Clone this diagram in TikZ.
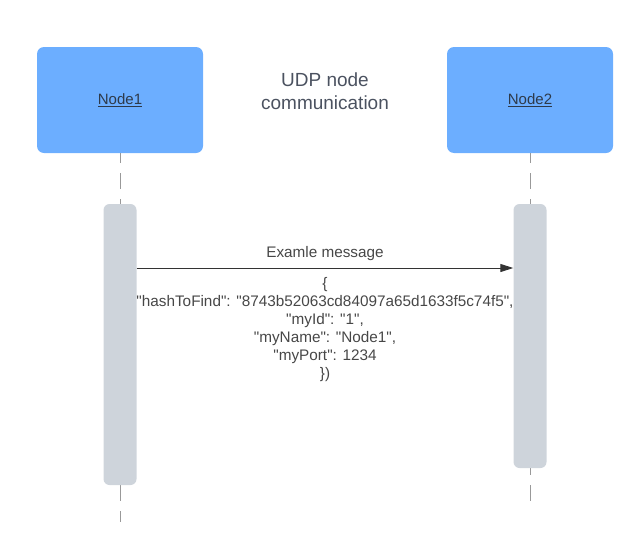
\documentclass[tikz,border=0pt]{standalone}
\usepackage{fontspec}
\setmainfont{Liberation Sans}[Ligatures=TeXOff]
\usetikzlibrary{arrows.meta,positioning}
\definecolor{actorblue}{HTML}{6CAEFF}
\definecolor{actortext}{HTML}{2E3A4A}
\definecolor{bargray}{HTML}{CED4DB}
\definecolor{titlegray}{HTML}{4B5260}
\definecolor{linegray}{HTML}{333333}

\begin{document}
\begin{tikzpicture}[x=1pt,y=-1pt,
   actor/.style={fill=actorblue,rounded corners=7pt,minimum width=166pt,
     minimum height=106pt,text=actortext,font={\fontsize{15}{18}\selectfont}},
   lifeline/.style={draw=gray!80,line width=1pt,dash pattern=on 16pt off 10pt,dash phase=6pt},
   activation/.style={fill=bargray,rounded corners=6pt,minimum width=33pt,inner sep=0pt},
   message/.style={draw=linegray,line width=0.9pt,-{Triangle[length=13pt,width=8pt]}},
   msgtext/.style={text=linegray!90,align=center,font={\fontsize{15.3}{18}\selectfont}}]
\useasboundingbox (0,0) rectangle (642,557);
% participants
\node[actor] (node1) at (120,100) {\underline{Node1}};
\node[actor] (node2) at (530,100) {\underline{Node2}};
\node[text=titlegray,align=center,font={\fontsize{19}{23}\selectfont}] (title) at (325,91) {UDP node\\communication};
% lifelines
\coordinate (end1) at (120,522);
\coordinate (end2) at (530,505);
\draw[lifeline] (node1.south) -- (end1);
\draw[lifeline] (node2.south) -- (end2);
\node[activation,minimum height=281pt] (bar1) at (120,344.5) {};
\node[activation,minimum height=264pt] (bar2) at (530,336) {};
% message
\coordinate (msg) at (0,268);
\draw[message] (bar1.east |- msg) -- (bar2.west |- msg)
   node[midway,above=4pt,msgtext] (label) {Examle message}
   node[midway,below=6pt,msgtext] (body) {\{\\
     "hashToFind": "8743b52063cd84097a65d1633f5c74f5",\\
     "myId": "1",\\
     "myName": "Node1",\\
     "myPort": 1234\\
     \})};
\end{tikzpicture}
\end{document}
